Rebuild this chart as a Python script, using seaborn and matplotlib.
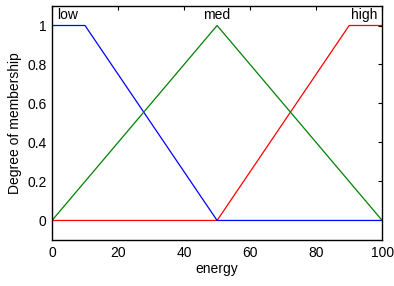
import matplotlib
matplotlib.use("Agg")
import matplotlib.pyplot as plt
import seaborn as sns
import pandas as pd

# membership function breakpoints
low_x = [0, 10, 50, 100]
low_y = [1, 1, 0, 0]
med_x = [0, 50, 100]
med_y = [0, 1, 0]
high_x = [0, 50, 90, 100]
high_y = [0, 0, 1, 1]
names = ["low", "med", "high"]
xticks = [0, 20, 40, 60, 80, 100]
yticks = [0, 0.2, 0.4, 0.6, 0.8, 1]

sns.set_style("white")
plt.rcParams["font.family"] = ["Liberation Sans", "DejaVu Sans"]
plt.rcParams["font.size"] = 10
plt.rcParams["text.color"] = "black"
plt.rcParams["axes.labelcolor"] = "black"
plt.rcParams["xtick.color"] = "black"
plt.rcParams["ytick.color"] = "black"

fig = plt.figure(figsize=(3.94, 2.86), dpi=100)
ax = fig.add_axes([0.132, 0.161, 0.838, 0.818])

frames = []
for n, xs, ys in [("high", high_x, high_y), ("low", low_x, low_y), ("med", med_x, med_y)]:
    frames.append(pd.DataFrame({"x": xs, "y": ys, "mf": n}))
df = pd.concat(frames, ignore_index=True)

sns.lineplot(data=df, x="x", y="y", hue="mf", sort=False, estimator=None,
             palette={"low": "#0000ff", "med": "#008000", "high": "#ff0000"},
             linewidth=0.9, legend=False, ax=ax)

ax.set_xlim(0, 100)
ax.set_ylim(-0.1, 1.1)
ax.set_xticks(xticks)
ax.set_yticks(yticks)
ax.set_yticklabels(["0", "0.2", "0.4", "0.6", "0.8", "1"])
ax.set_xlabel("energy", fontsize=10, labelpad=2, color="black")
ax.set_ylabel("Degree of membership", fontsize=10, labelpad=4, color="black")
ax.tick_params(direction="in", length=3, width=0.8, top=True, right=True,
               labelsize=10, colors="black", pad=4)
for s in ax.spines.values():
    s.set_color("black")
    s.set_linewidth(1.0)

ax.text(1.5, 1.055, names[0], ha="left", va="center", fontsize=10, color="black")
ax.text(50, 1.055, names[1], ha="center", va="center", fontsize=10, color="black")
ax.text(98.5, 1.055, names[2], ha="right", va="center", fontsize=10, color="black")

fig.savefig("out.png", dpi=100)
